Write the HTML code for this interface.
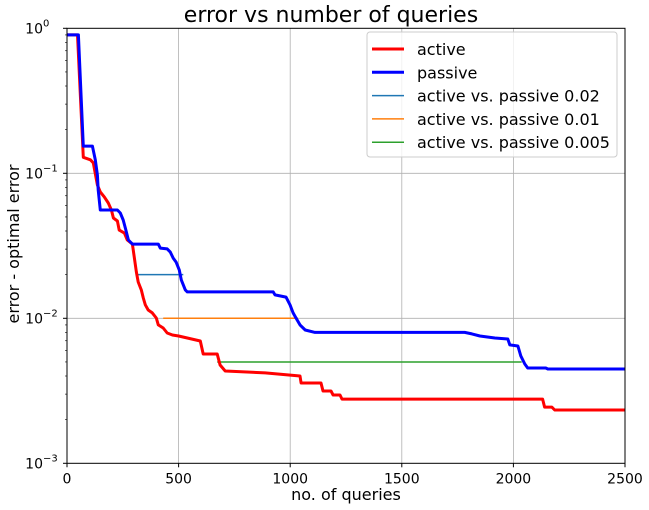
<!DOCTYPE html>
<html><head><meta charset="utf-8"><style>
body{margin:0;background:#fff;}
svg{display:block;font-family:"DejaVu Sans","Liberation Sans",sans-serif;}
</style></head><body>
<svg id="chart" width="649" height="510"></svg>
<script>
const xTicks=[0,500,1000,1500,2000,2500];
const yTickExps=[0,-1,-2,-3];
const activeQ=[2,47,73,105,118,136,149,167,185,199,208,226,234,257,270,293,311,319,333,342,351,364,382,400,409,431,449,472,500,539,597,610,673,686,709,888,1044,1049,1138,1147,1183,1192,1223,1232,2131,2140,2172,2185,2500];
const activeE=[0.90,0.90,0.129,0.124,0.118,0.083,0.0743,0.0687,0.0624,0.0558,0.0492,0.0469,0.0406,0.0387,0.0347,0.0325,0.0208,0.0178,0.0157,0.0138,0.0124,0.0114,0.0109,0.01005,0.0090,0.00857,0.00792,0.00767,0.00755,0.00731,0.00697,0.00567,0.00567,0.00476,0.00433,0.0042,0.0040,0.00358,0.00358,0.00315,0.00315,0.00296,0.00296,0.00277,0.00277,0.00244,0.00244,0.00233,0.00233];
const passiveQ=[2,51,73,114,127,136,140,149,226,239,252,261,275,293,409,418,449,463,476,489,503,512,530,539,924,932,981,999,1013,1026,1044,1067,1111,1782,1814,1850,1917,1975,1984,2020,2033,2051,2064,2145,2154,2500];
const passiveE=[0.90,0.90,0.154,0.154,0.124,0.0973,0.0767,0.0558,0.0558,0.0532,0.0476,0.0420,0.0347,0.0325,0.0325,0.0305,0.0301,0.0286,0.0260,0.0244,0.0215,0.0184,0.0157,0.0152,0.0152,0.0145,0.0140,0.0124,0.0109,0.01005,0.0090,0.0083,0.0080,0.0080,0.0078,0.00755,0.00731,0.0072,0.00655,0.00644,0.0055,0.00484,0.00454,0.00454,0.00447,0.00447];
const hLevels=[0.02,0.01,0.005];
const hStart=[315,431,673];
const hEnd=[521,1035,2037];
const hColors=["#1f77b4","#ff7f0e","#2ca02c"];
const legendLabels=["active","passive","active vs. passive 0.02","active vs. passive 0.01","active vs. passive 0.005"];

const NS="http://www.w3.org/2000/svg";
const svg=document.getElementById('chart');
const L=67,R=625,T=28.3,B=463.3;
const xs=q=>L+(q/2500)*(R-L);
const ys=e=>T+(-Math.log10(e))/3*(B-T);
function mk(tag,attrs,parent){const el=document.createElementNS(NS,tag);for(const k in attrs)el.setAttribute(k,attrs[k]);(parent||svg).appendChild(el);return el;}

xTicks.forEach((t,i)=>{if(i>0&&i<xTicks.length-1){const g=mk('line',{x1:xs(t),x2:xs(t),y1:T,y2:B,stroke:'#b0b0b0','stroke-width':0.8});

}});
yTickExps.forEach(ex=>{if(ex<0&&ex>-3){const g=mk('line',{x1:L,x2:R,y1:ys(Math.pow(10,ex)),y2:ys(Math.pow(10,ex)),stroke:'#b0b0b0','stroke-width':0.8});

}});

hLevels.forEach((lv,i)=>{const l=mk('line',{x1:xs(hStart[i]),x2:xs(hEnd[i]),y1:ys(lv),y2:ys(lv),stroke:hColors[i],'stroke-width':1.5});

});

function series(Q,E,color,name){const pts=Q.map((q,i)=>xs(q).toFixed(1)+','+ys(E[i]).toFixed(1)).join(' ');
const p=mk('polyline',{points:pts,fill:'none',stroke:color,'stroke-width':3,'stroke-linejoin':'round'});

}
series(activeQ,activeE,'#ff0000','active-line');
series(passiveQ,passiveE,'#0000ff','passive-line');

const fr=mk('rect',{x:L,y:T,width:R-L,height:B-T,fill:'none',stroke:'#000','stroke-width':1});



xTicks.forEach(t=>{mk('line',{x1:xs(t),x2:xs(t),y1:B,y2:B+4,stroke:'#000'});
const tx=mk('text',{x:xs(t),y:B+20,'font-size':14,'text-anchor':'middle'});tx.textContent=t;

});
yTickExps.forEach(ex=>{const y=ys(Math.pow(10,ex));mk('line',{x1:L-4,x2:L,y1:y,y2:y,stroke:'#000'});
const tx=mk('text',{x:L-24,y:y+5,'font-size':14,'text-anchor':'end'});tx.textContent='10';


const sp=mk('text',{x:L-24,y:y-2,'font-size':10,'text-anchor':'start'});sp.textContent=(ex<0?'\u2212':'')+Math.abs(ex);
if(ex<0){for(let m=2;m<=9;m++){const yy=ys(m*Math.pow(10,ex));mk('line',{x1:L-2,x2:L,y1:yy,y2:yy,stroke:'#000','stroke-width':0.6});}}});

const title=mk('text',{x:331,y:22,'font-size':22,'text-anchor':'middle'});title.textContent='error vs number of queries';


const xl=mk('text',{x:346,y:500,'font-size':16,'text-anchor':'middle'});xl.textContent='no. of queries';


const yl=mk('text',{x:19,y:244,'font-size':16,'text-anchor':'middle',transform:'rotate(-90 19 244)'});yl.textContent='error - optimal error';



const lg=mk('rect',{x:367,y:32,width:250,height:125,rx:3,fill:'#fff','fill-opacity':0.8,stroke:'#ccc'});


const lc=['#ff0000','#0000ff'].concat(hColors);
legendLabels.forEach((lab,i)=>{const y=49+i*23.3;
mk('line',{x1:372,x2:404,y1:y,y2:y,stroke:lc[i],'stroke-width':i<2?3:1.5});
const t=mk('text',{x:417,y:y+6,'font-size':16});t.textContent=lab;

});
</script>
</body></html>
